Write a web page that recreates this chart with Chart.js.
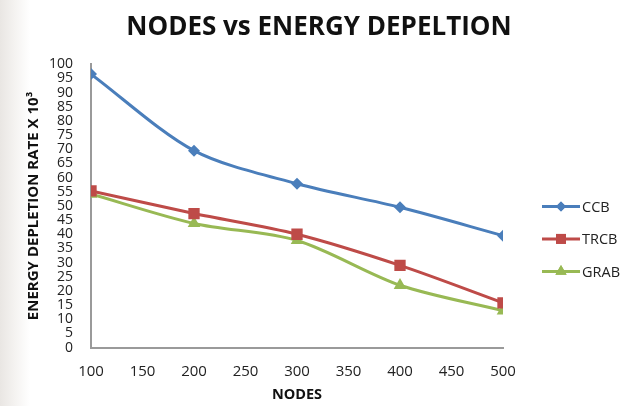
<!DOCTYPE html>
<html>
<head>
<meta charset="utf-8">
<script src="https://cdn.jsdelivr.net/npm/chart.js@4"></script>
<style>
  html,body{margin:0;padding:0;}
  body{width:634px;height:406px;background:linear-gradient(to right,#e9e6e3 0px,#f4f2f0 14px,#ffffff 30px);}
  #wrap{position:absolute;left:0;top:0;width:634px;height:406px;}
</style>
</head>
<body>
<div id="wrap"><canvas id="c" width="634" height="406"></canvas></div>
<script>
const nodes = [100, 200, 300, 400, 500];
const ccb  = [96.5, 69.5, 57.8, 49.5, 39.5];
const trcb = [55.3, 47.3, 40.0, 29.0, 15.8];
const grab = [54.2, 43.8, 37.8, 22.0, 13.0];
const seriesNames = ['CCB', 'TRCB', 'GRAB'];
const xTicks = [100, 150, 200, 250, 300, 350, 400, 450, 500];
const yTicks = [0,5,10,15,20,25,30,35,40,45,50,55,60,65,70,75,80,85,90,95,100];

const colors = ['#4a7ebb', '#be4b48', '#98b954'];
const styles = ['rectRot', 'rect', 'triangle'];
const radii = [6, 8, 7.3];
const legendRadii = [5, 7, 6.5];

function toPts(arr){ return nodes.map((n,i)=>({x:n, y:arr[i]})); }

const datasets = [ccb, trcb, grab].map((arr,i)=>({
  label: seriesNames[i],
  data: toPts(arr),
  borderColor: colors[i],
  backgroundColor: colors[i],
  borderWidth: 3,
  pointStyle: styles[i],
  pointRadius: radii[i],
  pointHoverRadius: radii[i],
  pointBorderWidth: 0,
  tension: 0.3
}));

const sideLegend = {
  id: 'sideLegend',
  afterDraw(chart) {
    const ctx = chart.ctx;
    const ca = chart.chartArea;
    const x0 = ca.right + 39;
    const midY = (ca.top + ca.bottom) / 2 + 33;
    const step = 32.5;
    chart.data.datasets.forEach((d, i) => {
      const y = midY + (i - 1) * step;
      ctx.save();
      ctx.strokeStyle = colors[i];
      ctx.lineWidth = 3;
      ctx.beginPath(); ctx.moveTo(x0, y); ctx.lineTo(x0 + 38, y); ctx.stroke();
      ctx.fillStyle = colors[i];
      Chart.helpers.drawPoint(ctx, { pointStyle: styles[i], radius: legendRadii[i], rotation: 0, borderWidth: 0 }, x0 + 19, y);
      ctx.fill();
      ctx.fillStyle = '#222';
      ctx.font = '14.5px "Open Sans"';
      ctx.textAlign = 'left';
      ctx.textBaseline = 'middle';
      ctx.fillText(d.label, x0 + 40, y + 1);
      ctx.restore();
    });
  }
};

new Chart(document.getElementById('c'), {
  type: 'line',
  data: { datasets },
  plugins: [sideLegend],
  options: {
    responsive: false,
    animation: false,
    layout: { padding: { left: 22, right: 18, top: 4, bottom: 2 } },
    plugins: {
      title: {
        display: true,
        text: 'NODES vs ENERGY DEPELTION',
        font: { family: 'Open Sans', size: 26, weight: 'bold' },
        color: '#111',
        padding: { top: 8, bottom: 21 }
      },
      legend: { display: false },
      tooltip: { enabled: false }
    },
    scales: {
      x: {
        type: 'linear',
        min: 100, max: 500,
        afterBuildTicks: (ax) => { ax.ticks = xTicks.map(v=>({value:v})); },
        grid: { display: false, drawTicks: false },
        border: { color: '#9a9a9a', width: 2 },
        ticks: { padding: 15, maxRotation: 0, color: '#222', font: { family: 'Open Sans', size: 15 } },
        title: { display: true, text: 'NODES', color: '#111',
                 font: { family: 'Open Sans', size: 14.5, weight: 'bold' }, padding: { top: -9, bottom: 0 } }
      },
      y: {
        type: 'linear',
        min: 0, max: 100,
        afterBuildTicks: (ax) => { ax.ticks = yTicks.map(v=>({value:v})); },
        grid: { display: false, drawTicks: false },
        border: { color: '#9a9a9a', width: 2 },
        ticks: { padding: 18, color: '#222', autoSkip: false, font: { family: 'Open Sans', size: 14, lineHeight: 1 } },
        title: { display: true, text: 'ENERGY DEPLETION RATE X 10³', color: '#111',
                 font: { family: 'Open Sans', size: 15, weight: 'bold' }, padding: { top: 3, bottom: -12 } }
      },
      legendSpace: {
        type: 'linear',
        position: 'right',
        display: true,
        grid: { display: false, drawTicks: false },
        border: { display: false },
        ticks: { display: false },
        afterFit: (s) => { s.width = 113; }
      }
    }
  }
});
</script>
</body>
</html>
